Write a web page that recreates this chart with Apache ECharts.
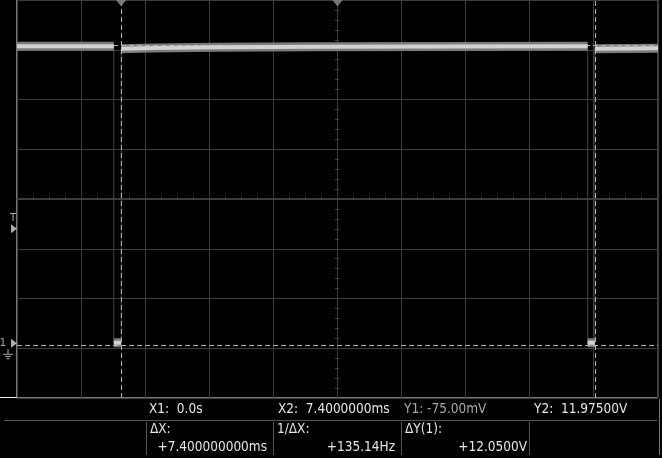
<!DOCTYPE html>
<html>
<head>
<meta charset="utf-8">
<script src="https://cdn.jsdelivr.net/npm/echarts@6/dist/echarts.min.js"></script>
<style>
html, body { margin: 0; padding: 0; background: #000; }
#scope { width: 662px; height: 458px; }
</style>
</head>
<body>
<div id="scope"></div>
<script>
// screen: 1 ms/div horizontally, 2 V/div vertically
var xMin = -1.625, xMax = 8.375, xStep = 1;
var yMin = -2.2, yMax = 13.8, yStep = 2;

// channel 1 trace [ms, V]
var trace = [
	[-1.625, 11.94], [-0.115, 11.94],
	[-0.115, 0.02], [0, 0.02],
	[0, 11.84], [0.5, 11.87], [1.5, 11.90], [3.0, 11.92], [5.0, 11.93], [7.277, 11.94],
	[7.277, 0.02], [7.39, 0.02],
	[7.39, 11.84], [8.375, 11.86]
];

var cursorX = [0, 7.4];          // X1, X2 (ms)
var cursorY = [-0.075, 11.975];  // Y1, Y2 (V)
var topMarks = [0, 3.375];       // trigger point, time reference
var trigLevel = 4.6;
var gndLevel = 0;

var readoutTop = ['X1:  0.0s', 'X2:  7.4000000ms', 'Y1: -75.00mV', 'Y2:  11.97500V'];
var readoutLabels = ['\u0394X:', '1/\u0394X:', '\u0394Y(1):'];
var readoutValues = ['+7.400000000ms', '+135.14Hz', '+12.0500V'];

var FONT = "'DejaVu Sans Condensed', 'DejaVu Sans', sans-serif";
var GRID = '#3d3d3d';

function bandData(pts) {
	var out = [];
	for (var i = 0; i < pts.length; i++) {
		if (i > 0 && pts[i][0] === pts[i - 1][0]) out.push([pts[i][0], '-']);
		out.push(pts[i]);
	}
	return out;
}

// centre cross with small ticks; two copies so the ticks sit on both sides
function centerAxis(dim, inside, offset) {
	return {
		type: 'value', gridIndex: 0,
		min: dim === 'x' ? xMin : yMin,
		max: dim === 'x' ? xMax : yMax,
		interval: dim === 'x' ? xStep : yStep,
		position: dim === 'x' ? 'bottom' : 'left',
		offset: offset,
		axisLine: { show: true, onZero: false, lineStyle: { color: GRID, width: 1 } },
		axisTick: { show: true, inside: inside, length: 0, lineStyle: { color: GRID } },
		minorTick: { show: true, splitNumber: dim === 'x' ? 4 : 5, length: 2, lineStyle: { color: GRID } },
		axisLabel: { show: false },
		splitLine: { show: false }
	};
}

var chart = echarts.init(document.getElementById('scope'));

var option = {
	backgroundColor: '#000',
	animation: false,
	grid: {
		left: 17, right: 4, top: -2, bottom: 60,
		show: true, borderColor: '#f0f0f0', borderWidth: 1, backgroundColor: 'transparent'
	},
	xAxis: [
		{
			type: 'value', min: xMin, max: xMax, interval: xStep,
			axisLine: { show: false }, axisTick: { show: false }, axisLabel: { show: false },
			splitLine: { show: true, lineStyle: { color: GRID, width: 1 } }
		},
		centerAxis('x', true, -200),
		centerAxis('x', false, -200)
	],
	yAxis: [
		{
			type: 'value', min: yMin, max: yMax, interval: yStep,
			axisLine: { show: false }, axisTick: { show: false }, axisLabel: { show: false },
			splitLine: { show: true, lineStyle: { color: GRID, width: 1 } }
		},
		centerAxis('y', true, -320),
		centerAxis('y', false, -320)
	],
	series: [
		{
			// thin edges
			type: 'line', data: trace, showSymbol: false, z: 3,
			lineStyle: { color: '#454545', width: 1 }
		},
		{
			// wide noisy band
			type: 'line', data: bandData(trace), showSymbol: false, z: 4,
			lineStyle: { color: '#7c7c7c', width: 9, cap: 'butt' }
		},
		{
			// bright core
			type: 'line', data: bandData(trace), showSymbol: false, z: 5,
			lineStyle: { color: '#d2d2d2', width: 4, cap: 'butt' }
		},
		{
			// cursors
			type: 'line', data: [], z: 6,
			markLine: {
				silent: true, symbol: 'none', label: { show: false }, animation: false,
				lineStyle: { color: '#b4b4b4', width: 1, type: [5, 3] },
				data: cursorX.map(function(v) { return { xAxis: v }; })
					.concat(cursorY.map(function(v) { return { yAxis: v }; }))
			}
		},
		{
			// trigger / reference markers at top
			type: 'scatter', z: 7, clip: false,
			data: topMarks.map(function(v) { return [v, yMax]; }),
			symbol: 'triangle', symbolRotate: 180, symbolSize: [11, 7], symbolOffset: [0, 3],
			itemStyle: { color: '#8c8c8c' }
		},
		{
			// left side level markers
			type: 'scatter', z: 7, clip: false,
			data: [
				{ value: [xMin, trigLevel], label: { show: true, formatter: 'T', position: 'top', distance: 1, offset: [-1, 0] } },
				{ value: [xMin, gndLevel], label: { show: true, formatter: '1', position: 'left', distance: 5 } }
			],
			symbol: 'triangle', symbolRotate: -90, symbolSize: [9, 6], symbolOffset: [-3, 0],
			itemStyle: { color: '#d8d8d8' },
			label: { color: '#d0d0d0', fontFamily: FONT, fontSize: 11 }
		},
		{
			// ground symbol
			type: 'scatter', z: 7, clip: false,
			data: [[xMin, gndLevel]],
			symbol: 'path://M4,0h1v4h-1z M0,4h9v1h-9z M2,6h5v1h-5z M3,8h3v1h-3z',
			symbolKeepAspect: true, symbolSize: [10, 10], symbolOffset: [-9, 11],
			itemStyle: { color: '#d0d0d0' }
		}
	],
	graphic: []
};

// readout panel
var g = option.graphic;
var lineCol = '#555';
var textFont = '13.5px ' + FONT;
g.push({ type: 'line', shape: { x1: 0, y1: 397.5, x2: 17, y2: 397.5 }, style: { stroke: '#f0f0f0', lineWidth: 1 }, silent: true });
g.push({ type: 'line', shape: { x1: 4, y1: 420.5, x2: 657, y2: 420.5 }, style: { stroke: lineCol, lineWidth: 1 }, silent: true });
g.push({ type: 'line', shape: { x1: 659.5, y1: 399, x2: 659.5, y2: 455 }, style: { stroke: '#777', lineWidth: 1 }, silent: true });
[146, 273, 401, 529].forEach(function(x) {
	g.push({ type: 'line', shape: { x1: x + 0.5, y1: 422, x2: x + 0.5, y2: 455 }, style: { stroke: lineCol, lineWidth: 1 }, silent: true });
});
var topX = [149, 278, 404, 534];
readoutTop.forEach(function(t, i) {
	g.push({ type: 'text', x: topX[i], y: 409, silent: true,
		style: { text: t, fill: i === 2 ? '#a8a8a8' : '#e6e6e6', font: textFont, verticalAlign: 'middle' } });
});
var labX = [150, 277, 405];
var valX = [267, 395, 527];
readoutLabels.forEach(function(t, i) {
	g.push({ type: 'text', x: labX[i], y: 429, silent: true,
		style: { text: t, fill: '#e6e6e6', font: textFont, verticalAlign: 'middle' } });
	g.push({ type: 'text', x: valX[i], y: 447, silent: true,
		style: { text: readoutValues[i], fill: '#e6e6e6', font: textFont, verticalAlign: 'middle', align: 'right' } });
});

chart.setOption(option);
</script>
</body>
</html>
